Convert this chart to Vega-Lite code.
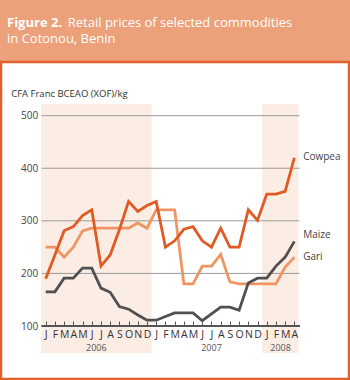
{
  "$schema": "https://vega.github.io/schema/vega-lite/v6.json",
  "width": 348,
  "height": 317,
  "autosize": {"type": "none"},
  "padding": {"left": 1, "top": 62, "right": 1, "bottom": 1},
  "background": "#ECA17A",
  "view": {"fill": "#FFFFFF", "stroke": "#E35F2C", "strokeWidth": 2.5},
  "config": {"font": "Open Sans", "axisX": {"labelOverlap": false, "zindex": 1}, "axisY": {"zindex": 1}},
  "title": {
    "text": "Figure 2.",
    "subtitle": ["\u200b\u00a0\u00a0\u00a0\u00a0\u00a0\u00a0\u00a0\u00a0\u00a0\u00a0\u00a0\u00a0\u00a0\u00a0\u00a0\u00a0\u00a0\u00a0Retail prices of selected commodities", "in Cotonou, Benin"],
    "anchor": "start",
    "frame": "group",
    "orient": "top",
    "dx": 6,
    "offset": 16,
    "font": "Open Sans",
    "fontSize": 13,
    "fontWeight": "bold",
    "color": "#FFFFFF",
    "subtitleFont": "Open Sans",
    "subtitleFontSize": 13,
    "subtitleFontWeight": "normal",
    "subtitleColor": "#FFFFFF",
    "subtitlePadding": -13,
    "subtitleLineHeight": 16.5
  },
  "datasets": {
    "bands": [
      {"start": -0.5, "end": 11.5},
      {"start": 23.5, "end": 27.45}
    ],
    "grid": [{"v": 200}, {"v": 300}, {"v": 400}, {"v": 500}],
    "years": [
      {"pos": 5.5, "year": "2006"},
      {"pos": 18, "year": "2007"},
      {"pos": 25.5, "year": "2008"}
    ],
    "labels": [
      {"pos": 27.95, "v": 421, "label": "Cowpea"},
      {"pos": 27.95, "v": 273, "label": "Maize"},
      {"pos": 27.95, "v": 231, "label": "Gari"}
    ],
    "prices": [
      {"idx": 0, "series": "Gari", "value": 250},
      {"idx": 1, "series": "Gari", "value": 250},
      {"idx": 2, "series": "Gari", "value": 231},
      {"idx": 3, "series": "Gari", "value": 250},
      {"idx": 4, "series": "Gari", "value": 281},
      {"idx": 5, "series": "Gari", "value": 286},
      {"idx": 6, "series": "Gari", "value": 286},
      {"idx": 7, "series": "Gari", "value": 286},
      {"idx": 8, "series": "Gari", "value": 286},
      {"idx": 9, "series": "Gari", "value": 286},
      {"idx": 10, "series": "Gari", "value": 296},
      {"idx": 11, "series": "Gari", "value": 286},
      {"idx": 12, "series": "Gari", "value": 321},
      {"idx": 13, "series": "Gari", "value": 321},
      {"idx": 14, "series": "Gari", "value": 321},
      {"idx": 15, "series": "Gari", "value": 180},
      {"idx": 16, "series": "Gari", "value": 180},
      {"idx": 17, "series": "Gari", "value": 214},
      {"idx": 18, "series": "Gari", "value": 214},
      {"idx": 19, "series": "Gari", "value": 236},
      {"idx": 20, "series": "Gari", "value": 184},
      {"idx": 21, "series": "Gari", "value": 180},
      {"idx": 22, "series": "Gari", "value": 180},
      {"idx": 23, "series": "Gari", "value": 180},
      {"idx": 24, "series": "Gari", "value": 180},
      {"idx": 25, "series": "Gari", "value": 180},
      {"idx": 26, "series": "Gari", "value": 212},
      {"idx": 27, "series": "Gari", "value": 231},
      {"idx": 0, "series": "Maize", "value": 165},
      {"idx": 1, "series": "Maize", "value": 165},
      {"idx": 2, "series": "Maize", "value": 191},
      {"idx": 3, "series": "Maize", "value": 191},
      {"idx": 4, "series": "Maize", "value": 210},
      {"idx": 5, "series": "Maize", "value": 210},
      {"idx": 6, "series": "Maize", "value": 172},
      {"idx": 7, "series": "Maize", "value": 164},
      {"idx": 8, "series": "Maize", "value": 137},
      {"idx": 9, "series": "Maize", "value": 132},
      {"idx": 10, "series": "Maize", "value": 121},
      {"idx": 11, "series": "Maize", "value": 111},
      {"idx": 12, "series": "Maize", "value": 111},
      {"idx": 13, "series": "Maize", "value": 118},
      {"idx": 14, "series": "Maize", "value": 125},
      {"idx": 15, "series": "Maize", "value": 125},
      {"idx": 16, "series": "Maize", "value": 125},
      {"idx": 17, "series": "Maize", "value": 110},
      {"idx": 18, "series": "Maize", "value": 123},
      {"idx": 19, "series": "Maize", "value": 136},
      {"idx": 20, "series": "Maize", "value": 136},
      {"idx": 21, "series": "Maize", "value": 130},
      {"idx": 22, "series": "Maize", "value": 182},
      {"idx": 23, "series": "Maize", "value": 191},
      {"idx": 24, "series": "Maize", "value": 191},
      {"idx": 25, "series": "Maize", "value": 214},
      {"idx": 26, "series": "Maize", "value": 231},
      {"idx": 27, "series": "Maize", "value": 261},
      {"idx": 0, "series": "Cowpea", "value": 190},
      {"idx": 1, "series": "Cowpea", "value": 235},
      {"idx": 2, "series": "Cowpea", "value": 281},
      {"idx": 3, "series": "Cowpea", "value": 289},
      {"idx": 4, "series": "Cowpea", "value": 310},
      {"idx": 5, "series": "Cowpea", "value": 321},
      {"idx": 6, "series": "Cowpea", "value": 214},
      {"idx": 7, "series": "Cowpea", "value": 235},
      {"idx": 8, "series": "Cowpea", "value": 283},
      {"idx": 9, "series": "Cowpea", "value": 337},
      {"idx": 10, "series": "Cowpea", "value": 318},
      {"idx": 11, "series": "Cowpea", "value": 329},
      {"idx": 12, "series": "Cowpea", "value": 337},
      {"idx": 13, "series": "Cowpea", "value": 250},
      {"idx": 14, "series": "Cowpea", "value": 262},
      {"idx": 15, "series": "Cowpea", "value": 284},
      {"idx": 16, "series": "Cowpea", "value": 289},
      {"idx": 17, "series": "Cowpea", "value": 262},
      {"idx": 18, "series": "Cowpea", "value": 250},
      {"idx": 19, "series": "Cowpea", "value": 286},
      {"idx": 20, "series": "Cowpea", "value": 250},
      {"idx": 21, "series": "Cowpea", "value": 250},
      {"idx": 22, "series": "Cowpea", "value": 321},
      {"idx": 23, "series": "Cowpea", "value": 301},
      {"idx": 24, "series": "Cowpea", "value": 351},
      {"idx": 25, "series": "Cowpea", "value": 351},
      {"idx": 26, "series": "Cowpea", "value": 356},
      {"idx": 27, "series": "Cowpea", "value": 420}
    ]
  },
  "layer": [
    {
      "data": {"name": "bands"},
      "mark": {"type": "rect", "color": "#FBEDE4"},
      "encoding": {
        "x": {"field": "start", "type": "quantitative", "scale": {"domain": [-4.853, 32.93], "nice": false, "zero": false},
          "axis": {
            "values": [0,1,2,3,4,5,6,7,8,9,10,11,12,13,14,15,16,17,18,19,20,21,22,23,24,25,26,27],
            "tickCount": 100,
            "labelExpr": "['J','F','M','A','M','J','J','A','S','O','N','D'][datum.value % 12]",
            "orient": "bottom",
            "offset": -53,
            "domain": false,
            "grid": false,
            "ticks": true,
            "tickSize": -5,
            "tickColor": "#555555",
            "tickWidth": 1,
            "labelPadding": 8,
            "labelOverlap": false,
            "labelFlush": false,
            "labelBound": false,
            "labelFontSize": 10.5,
            "labelColor": "#333333",
            "labelFont": "Open Sans",
            "zindex": 1,
            "title": null
          }
        },
        "x2": {"field": "end"},
        "y": {"datum": 522, "type": "quantitative", "scale": {"domain": [-0.8, 602.1], "nice": false, "zero": false},
          "axis": {
            "values": [100, 200, 300, 400, 500],
            "tickCount": 100,
            "offset": -19.5,
            "domain": false,
            "ticks": false,
            "tickSize": 0,
            "grid": false,
            "labelAlign": "left",
            "labelBaseline": "middle",
            "labelPadding": 0,
            "labelFontSize": 10,
            "labelColor": "#444444",
            "labelFont": "Open Sans",
            "zindex": 1,
            "title": "CFA Franc BCEAO (XOF)/kg",
            "titleAngle": 0,
            "titleAlign": "left",
            "titleBaseline": "middle",
            "titleX": -9.8,
            "titleY": 31,
            "titleFont": "Open Sans",
            "titleFontSize": 9.5,
            "titleFontWeight": "normal",
            "titleColor": "#333333"
          }
        },
        "y2": {"datum": 48.6}
      }
    },
    {
      "data": {"name": "grid"},
      "mark": {"type": "rule", "color": "#9A9A9A", "strokeWidth": 1},
      "encoding": {
        "x": {"datum": -0.45, "type": "quantitative", "scale": {"domain": [-4.853, 32.93], "nice": false, "zero": false}},
        "x2": {"datum": 27.55},
        "y": {"field": "v", "type": "quantitative", "scale": {"domain": [-0.8, 602.1], "nice": false, "zero": false}}
      }
    },
    {
      "data": {"name": "grid"},
      "mark": {"type": "rule", "color": "#555555", "strokeWidth": 1.5},
      "encoding": {
        "x": {"datum": -0.43, "type": "quantitative", "scale": {"domain": [-4.853, 32.93], "nice": false, "zero": false}},
        "x2": {"datum": 27.6},
        "y": {"datum": 100, "type": "quantitative", "scale": {"domain": [-0.8, 602.1], "nice": false, "zero": false}}
      }
    },
    {
      "data": {"name": "prices"},
      "mark": {"type": "line", "strokeWidth": 2.8, "strokeJoin": "miter"},
      "encoding": {
        "x": {"field": "idx", "type": "quantitative", "scale": {"domain": [-4.853, 32.93], "nice": false, "zero": false}},
        "y": {"field": "value", "type": "quantitative", "scale": {"domain": [-0.8, 602.1], "nice": false, "zero": false}},
        "color": {"field": "series", "type": "nominal", "scale": {"domain": ["Gari", "Maize", "Cowpea"], "range": ["#EE9563", "#505050", "#E05A24"]}, "legend": null}
      }
    },
    {
      "data": {"name": "years"},
      "mark": {"type": "text", "fontSize": 9, "color": "#555555", "baseline": "middle", "align": "center"},
      "encoding": {
        "x": {"field": "pos", "type": "quantitative", "scale": {"domain": [-4.853, 32.93], "nice": false, "zero": false}},
        "y": {"datum": 59, "type": "quantitative", "scale": {"domain": [-0.8, 602.1], "nice": false, "zero": false}},
        "text": {"field": "year"}
      }
    },
    {
      "data": {"name": "labels"},
      "mark": {"type": "text", "fontSize": 10, "color": "#444444", "baseline": "middle", "align": "left"},
      "encoding": {
        "x": {"field": "pos", "type": "quantitative", "scale": {"domain": [-4.853, 32.93], "nice": false, "zero": false}},
        "y": {"field": "v", "type": "quantitative", "scale": {"domain": [-0.8, 602.1], "nice": false, "zero": false}},
        "text": {"field": "label"}
      }
    }
  ]
}
